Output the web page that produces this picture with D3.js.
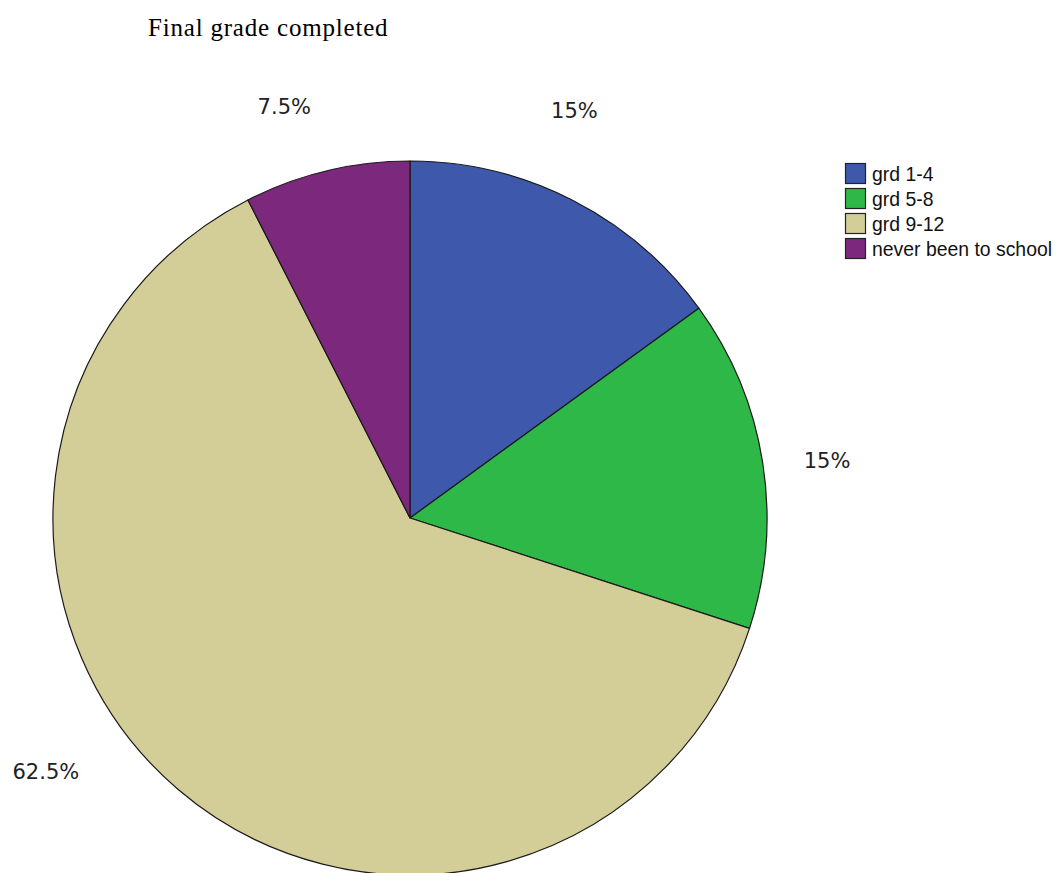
<!DOCTYPE html>
<html>
<head>
<meta charset="utf-8">
<script src="https://cdn.jsdelivr.net/npm/d3@7/dist/d3.min.js"></script>
<style>
  html, body { margin: 0; padding: 0; background: #ffffff; }
  svg { display: block; }
</style>
</head>
<body>
<svg id="chart" width="1060" height="873"></svg>
<script>
// Final grade completed — share of respondents per category
const categories = ["grd 1-4", "grd 5-8", "grd 9-12", "never been to school"];
const percents = [15, 15, 62.5, 7.5];
const percentLabels = ["15%", "15%", "62.5%", "7.5%"];
const colors = ["#3e58ac", "#2eb848", "#d3ce97", "#7c287d"];
const title = "Final grade completed";

const svg = d3.select("#chart");
const cx = 410, cy = 518, radius = 357;

// Title
svg.append("text")
  .attr("x", 148)
  .attr("y", 36)
  .attr("font-family", "Liberation Serif, Times New Roman, serif")
  .attr("font-size", 25)
  .attr("letter-spacing", 0.8)
  .attr("fill", "#000")
  .text(title);

const data = categories.map((c, i) => ({ category: c, value: percents[i], label: percentLabels[i], color: colors[i] }));

const pie = d3.pie().sort(null).value(d => d.value);
const arcs = pie(data);
const arc = d3.arc().innerRadius(0).outerRadius(radius);

const g = svg.append("g").attr("transform", `translate(${cx},${cy})`);

g.selectAll("path.slice")
  .data(arcs)
  .join("path")
  .attr("class", "slice")
  .attr("d", arc)
  .attr("fill", d => d.data.color)
  .attr("stroke", "#1a1a1a")
  .attr("stroke-width", 1.2)
  .attr("stroke-linejoin", "round");

// Percentage labels outside the pie; SPSS-style placement nudged per slice
const labelLayout = [
  { dAngle: -5.0, r: 439 },
  { dAngle: 1.2, r: 421 },
  { dAngle: 14.6, r: 444 },
  { dAngle: -3.5, r: 430 }
];
const labelPos = (d, i) => {
  const a = (d.startAngle + d.endAngle) / 2 + labelLayout[i].dAngle * Math.PI / 180;
  return [Math.sin(a) * labelLayout[i].r, -Math.cos(a) * labelLayout[i].r];
};
g.selectAll("text.pct")
  .data(arcs)
  .join("text")
  .attr("class", "pct")
  .attr("x", (d, i) => labelPos(d, i)[0])
  .attr("y", (d, i) => labelPos(d, i)[1])
  .attr("text-anchor", "middle")
  .attr("dominant-baseline", "central")
  .attr("font-family", "DejaVu Sans, Verdana, sans-serif")
  .attr("font-size", 21)
  .attr("fill", "#222")
  .text(d => d.data.label);

// Legend
const legend = svg.append("g").attr("transform", "translate(845,163)");
const rowH = 25;
const items = legend.selectAll("g.item")
  .data(data)
  .join("g")
  .attr("class", "item")
  .attr("transform", (d, i) => `translate(0,${i * rowH})`);

items.append("rect")
  .attr("x", 0.5)
  .attr("y", 0.5)
  .attr("width", 20)
  .attr("height", 20)
  .attr("fill", d => d.color)
  .attr("stroke", "#222")
  .attr("stroke-width", 1.2);

items.append("text")
  .attr("x", 27)
  .attr("y", 11)
  .attr("dominant-baseline", "central")
  .attr("font-family", "Liberation Sans, Arial, sans-serif")
  .attr("font-size", 19.4)
  .attr("fill", "#111")
  .text(d => d.category);
</script>
</body>
</html>
